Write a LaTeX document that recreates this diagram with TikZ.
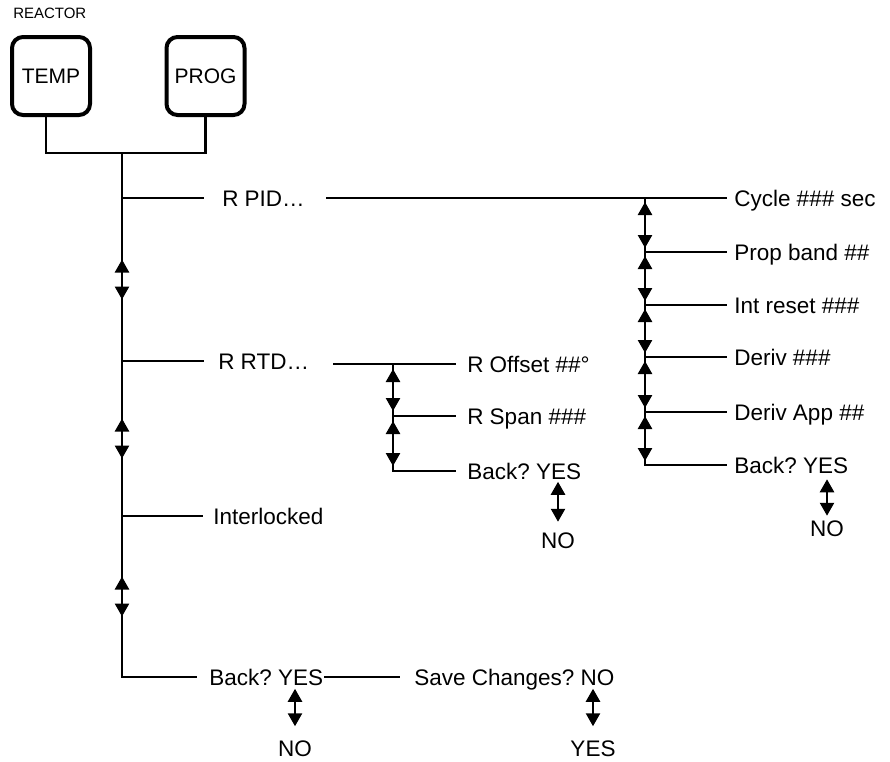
\documentclass[tikz,border=0pt]{standalone}
\usepackage{fontspec}
\setmainfont{Liberation Sans}
\usetikzlibrary{arrows.meta, calc}
\frenchspacing

\tikzset{
	menu/.style={font=\fontsize{22.5}{27}\selectfont, inner sep=0pt, text height=17pt, text depth=0pt},
	item/.style={menu, anchor=west},
	keybox/.style={draw, line width=4pt, rounded corners=11pt, minimum width=78pt, minimum height=78pt, font=\fontsize{21}{25}\selectfont},
	updown/.style={{Triangle[width=14pt,length=13pt]}-{Triangle[width=14pt,length=13pt]}},
}

\begin{document}
\begin{tikzpicture}[x=1pt, y=-1pt, line width=2.5pt]
	\useasboundingbox (0,0) rectangle (890,761);
	% keys
	\node[font=\fontsize{15}{18}\selectfont, anchor=west, inner sep=0pt] (title) at (12,13) {REACTOR};
	\node[keybox] (temp) at (51,76) {TEMP};
	\node[keybox] (prog) at (205.5,76) {PROG};
	\coordinate (hub) at (122,153);
	\draw ([xshift=-5pt]temp.south) |- (hub) -| (prog.south);
	% main menu
	\node[item] (pid)  at (221,198) {R PID…};
	\node[item] (rtd)  at (217,361) {R RTD…};
	\node[item] (intl) at (212,516) {Interlocked};
	\node[item] (back) at (208,677) {Back? YES};
	\node[item] (save) at (413,677) {Save Changes? NO};
	\node[menu] (bno)  at (295,748) {NO};
	\node[menu] (syes) at (593,748) {YES};
	\draw (hub) |- ([xshift=-11pt]back.west);
	\draw (hub |- pid.west) -- ([xshift=-17pt]pid.west);
	\draw (hub |- rtd.west) -- ([xshift=-13pt]rtd.west);
	\draw (hub |- intl.west) -- ([xshift=-9pt]intl.west);
	\foreach \a/\b in {pid/rtd, rtd/intl, intl/back}
		\draw[updown] ($(hub |- \a.west)!.5!(hub |- \b.west)+(0,-20)$) -- ++(0,40);
	\draw (back.east) -- ([xshift=-13pt]save.west);
	\draw[updown] ([yshift=-2pt]bno |- back.south) -- ([yshift=12pt]bno.north);
	\draw[updown] ([yshift=-2pt]syes |- save.south) -- ([yshift=12pt]syes.north);
	% PID submenu
	\node[item] (cyc)  at (733,198) {Cycle \#\#\# sec};
	\node[item] (prop) at (733,252) {Prop band \#\#};
	\node[item] (ires) at (733,305) {Int reset \#\#\#};
	\node[item] (der)  at (733,357) {Deriv \#\#\#};
	\node[item] (dapp) at (733,412) {Deriv App \#\#};
	\node[item] (pbk)  at (733,465) {Back? YES};
	\node[menu] (pno)  at (827,528) {NO};
	\coordinate (pcol) at (645,198);
	\draw ([xshift=20pt]pid.east) -- ([xshift=-6pt]cyc.west);
	\draw (pcol) |- ([xshift=-6pt]pbk.west);
	\foreach \n in {prop, ires, der, dapp}
		\draw (pcol |- \n.west) -- ([xshift=-6pt]\n.west);
	\foreach \a/\b in {cyc/prop, prop/ires, ires/der, der/dapp, dapp/pbk}
		\draw[updown] ([yshift=-4pt]pcol |- \a.west) -- ([yshift=4pt]pcol |- \b.west);
	\draw[updown] ([yshift=-4.5pt]pno |- pbk.south) -- ([yshift=2.5pt]pno.north);
	% RTD submenu
	\node[item] (roff)  at (466,364) {R Offset \#\#°};
	\node[item] (rspan) at (466,416) {R Span \#\#\#};
	\node[item] (rbk)   at (466,471) {Back? YES};
	\node[menu] (rno)   at (558,540) {NO};
	\coordinate (rcol) at (393,364);
	\draw ($(rtd.east |- roff.west)+(23,0)$) -- ([xshift=-10pt]roff.west);
	\draw (rcol) |- ([xshift=-10pt]rbk.west);
	\draw (rcol |- rspan.west) -- ([xshift=-10pt]rspan.west);
	\foreach \a/\b in {roff/rspan, rspan/rbk}
		\draw[updown] ([yshift=-5pt]rcol |- \a.west) -- ([yshift=5pt]rcol |- \b.west);
	\draw[updown] ([yshift=-1pt]rno |- rbk.south) -- ([yshift=8.5pt]rno.north);
\end{tikzpicture}
\end{document}
